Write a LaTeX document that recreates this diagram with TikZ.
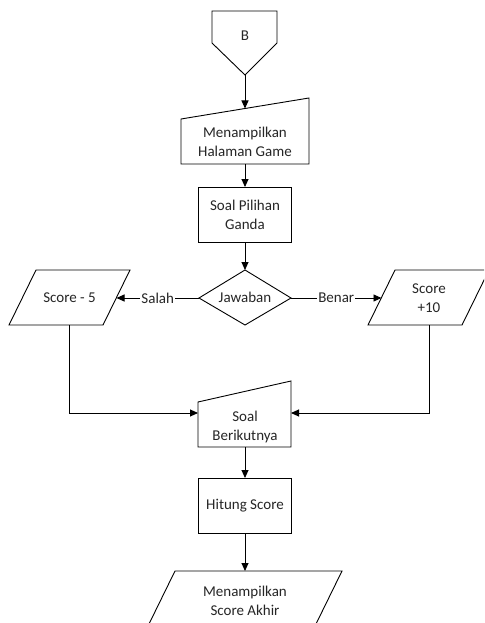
\documentclass[tikz,border=0pt]{standalone}
\usepackage{fontspec}
\setmainfont{Carlito}
\usetikzlibrary{arrows.meta}
\begin{document}
\begin{tikzpicture}[x=1pt,y=-1pt,
  shape line/.style={draw=black,line width=0.9pt,fill=white,line join=miter},
  flow/.style={draw=black,line width=0.9pt,-{Triangle[length=8pt,width=7pt]}},
  txt/.style={align=center,text=black!85,inner sep=0pt,
    font=\fontsize{15}{19}\selectfont},
  edge label/.style={fill=white,inner sep=1pt,text=black!85,
    font=\fontsize{15}{19}\selectfont}]
\useasboundingbox (0,0) rectangle (484,623);
\clip (0,0) rectangle (484,623);

% off-page connector B
\draw[shape line] (212,11) -- (277,11) -- (277,43) -- (245,75) -- (212,43) -- cycle;
\node[txt] (b) at (245,36) {B};
\coordinate (b-out) at (245,75);

% manual input: Menampilkan Halaman Game
\draw[shape line] (181,119) -- (309,98) -- (309,164) -- (181,164) -- cycle;
\node[txt] (show) at (245,142) {Menampilkan\\Halaman Game};
\coordinate (show-in) at (245,108.5);
\coordinate (show-out) at (245,164);

% process: Soal Pilihan Ganda
\draw[shape line] (198,187) rectangle (291,242);
\node[txt] (soal) at (245,215) {Soal Pilihan\\Ganda};
\coordinate (soal-in) at (245,187);
\coordinate (soal-out) at (245,242);

% decision: Jawaban
\draw[shape line] (245,270) -- (291,298) -- (245,325) -- (199,298) -- cycle;
\node[txt] (jawab) at (245,297.5) {Jawaban};
\coordinate (jawab-in) at (245,270);
\coordinate (jawab-l) at (199,298);
\coordinate (jawab-r) at (291,298);

% data: Score - 5
\draw[shape line] (36,270) -- (130,270) -- (103,325) -- (9,325) -- cycle;
\node[txt] (minus) at (69.5,297.5) {Score - 5};
\coordinate (minus-in) at (116.5,298);
\coordinate (minus-out) at (69,325);

% data: Score +10
\draw[shape line] (395,270) -- (489,270) -- (462,325) -- (368,325) -- cycle;
\node[txt] (plus) at (429,298) {Score\\+10};
\coordinate (plus-in) at (381.5,298);
\coordinate (plus-out) at (429,325);

% manual input: Soal Berikutnya
\draw[shape line] (198,402) -- (291,381) -- (291,447) -- (198,447) -- cycle;
\node[txt] (next) at (245,427) {Soal\\Berikutnya};
\coordinate (next-l) at (198,413);
\coordinate (next-r) at (291,413);
\coordinate (next-out) at (245,447);

% process: Hitung Score
\draw[shape line] (198,478) rectangle (291,533);
\node[txt] (hitung) at (245,506) {Hitung Score};
\coordinate (hitung-in) at (245,478);
\coordinate (hitung-out) at (245,533);

% data: Menampilkan Score Akhir
\draw[shape line] (175,571) -- (342,571) -- (315,626) -- (148,626) -- cycle;
\node[txt] (akhir) at (245,601) {Menampilkan\\Score Akhir};
\coordinate (akhir-in) at (245,571);

% connectors
\draw[flow] (b-out) -- (show-in);
\draw[flow] (show-out) -- (soal-in);
\draw[flow] (soal-out) -- (jawab-in);
\draw[flow] (jawab-l) -- node[edge label,pos=0.5] {Salah} (minus-in);
\draw[flow] (jawab-r) -- node[edge label,pos=0.5] {Benar} (plus-in);
\draw[flow] (minus-out) |- (next-l);
\draw[flow] (plus-out) |- (next-r);
\draw[flow] (next-out) -- (hitung-in);
\draw[flow] (hitung-out) -- (akhir-in);
\end{tikzpicture}
\end{document}
